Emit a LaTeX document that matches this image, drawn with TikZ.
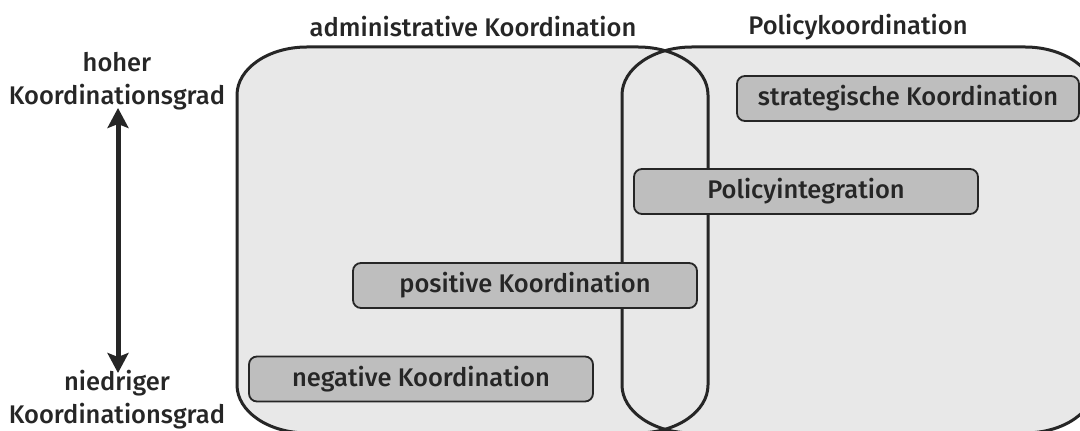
\documentclass[tikz,border=0pt]{standalone}
\usepackage{fontspec}
\setmainfont{Fira Sans Medium}
\usetikzlibrary{arrows.meta}
\definecolor{areafill}{HTML}{E8E8E8}
\definecolor{boxfill}{HTML}{BEBEBE}
\definecolor{ink}{HTML}{262626}
\begin{document}
\begin{tikzpicture}[x=1pt,y=1pt,
  lbl/.style={font=\fontsize{25.5}{28}\selectfont, text=ink, inner sep=0pt},
  levelbox/.style={draw=ink, line width=1.8pt, fill=boxfill, rounded corners=8pt,
    minimum width=344pt, minimum height=45pt, inner sep=0pt,
    font=\fontsize{25.5}{28}\selectfont, text=ink},
  area/.style={draw=ink, line width=3pt}
]
\useasboundingbox (0,0) rectangle (1080,431);
\begin{scope}
\clip (0,0) rectangle (1080,431);
% two overlapping coordination areas with elliptic corners
\def\admpath{(237,339) -- (237,46) arc[start angle=180,end angle=270,x radius=70,y radius=48]
  -- (638,-2) arc[start angle=270,end angle=360,x radius=70,y radius=48]
  -- (708,336) arc[start angle=0,end angle=90,x radius=70,y radius=48]
  -- (307,384) arc[start angle=90,end angle=180,x radius=70,y radius=48] -- cycle}
\def\polpath{(622,339) -- (622,46) arc[start angle=180,end angle=270,x radius=70,y radius=48]
  -- (1025,-2) arc[start angle=270,end angle=360,x radius=70,y radius=48]
  -- (1095,336) arc[start angle=0,end angle=90,x radius=70,y radius=48]
  -- (692,384) arc[start angle=90,end angle=180,x radius=70,y radius=48] -- cycle}
\fill[areafill] \admpath;
\fill[areafill] \polpath;
\draw[area] \admpath;
\draw[area] \polpath;
\end{scope}

% area titles
\node[lbl] (adm) at (473,404) {administrative Koordination};
\node[lbl] (pol) at (858,404) {Policykoordination};

% coordination levels
\node[levelbox, minimum width=342pt] (strat) at (908,332.5) {strategische Koordination};
\node[levelbox] (pint) at (806,239.5) {Policyintegration};
\node[levelbox] (pos) at (525,145.5) {positive Koordination};
\node[levelbox] (neg) at (421,52) {negative Koordination};

% scale of coordination degree
\node[lbl] (hoch1) at (117,369) {hoher};
\node[lbl] (hoch2) at (117,334) {Koordinationsgrad};
\node[lbl] (nied1) at (117,48) {niedriger};
\node[lbl] (nied2) at (117,15) {Koordinationsgrad};
\coordinate (topend) at (118,323);
\coordinate (botend) at (118,58);
\draw[line width=5pt, ink, {Stealth[width=21pt,length=20pt,inset=4pt]}-{Stealth[width=21pt,length=20pt,inset=4pt]}] (botend) -- (topend);
\end{tikzpicture}
\end{document}
